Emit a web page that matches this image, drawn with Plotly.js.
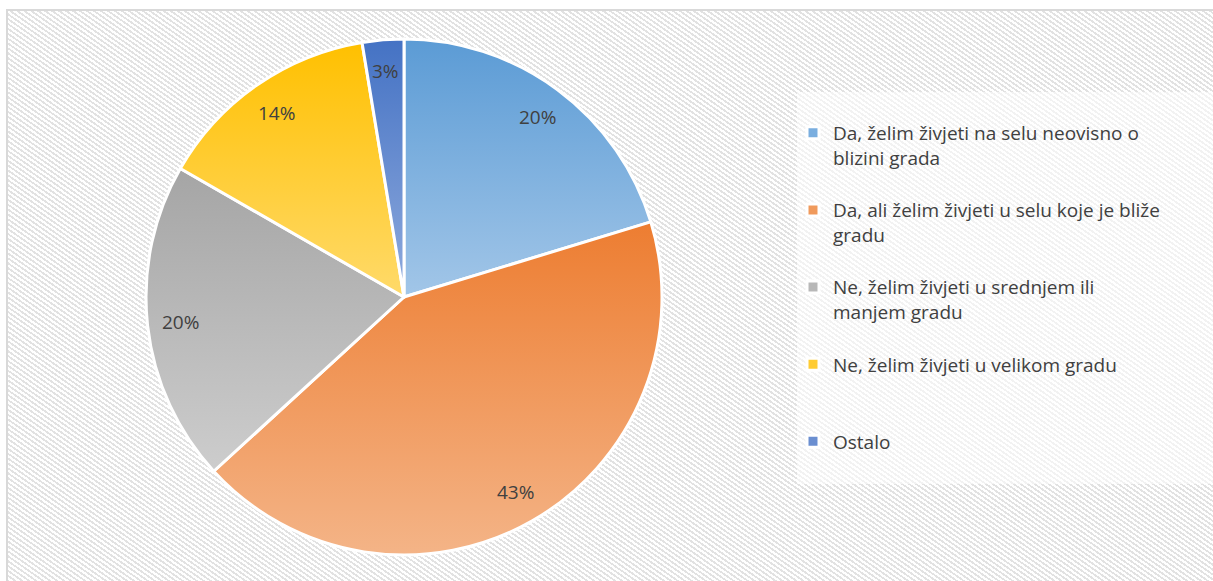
<!DOCTYPE html>
<html>
<head>
<meta charset="utf-8">
<script src="https://cdn.plot.ly/plotly-3.0.1.min.js"></script>
<style>
  html, body { margin: 0; padding: 0; background: #ffffff; }
  #wrap { position: relative; width: 1213px; height: 581px; overflow: hidden; background: #ffffff; }
  #bg { position: absolute; left: 6px; top: 9px; width: 1220px; height: 600px;
        border-left: 2px solid #d9d9d9; border-top: 2px solid #d9d9d9;
        background: repeating-linear-gradient(35deg, #e2e2e2 0px, #e2e2e2 1.8px, #ffffff 1.8px, #ffffff 4px); }
  #chart { position: absolute; left: 0; top: 0; width: 1213px; height: 581px; }
</style>
</head>
<body>
<div id="wrap">
  <div id="bg"></div>
  <div id="chart"></div>
</div>
<script>
// ---- data ----
var categories = [
  "Da, želim živjeti na selu neovisno o<br>blizini grada<br> ",
  "Da, ali želim živjeti u selu koje je bliže<br>gradu<br> ",
  "Ne, želim živjeti u srednjem ili<br>manjem gradu<br> ",
  "Ne, želim živjeti u velikom gradu<br> <br> ",
  "Ostalo"
];
var values = [20.3, 42.9, 20.1, 14.1, 2.6];

// ---- styles ----
var midColors = ["#7aaedf", "#f09a5c", "#b8b8b8", "#ffcc33", "#6a8ed0"];
var gradTop = ["#5b9bd5", "#ed7d31", "#a5a5a5", "#ffc000", "#4472c4"];
var gradBottom = ["#a2c6e8", "#f4b487", "#cdcdcd", "#ffda6a", "#90abdd"];
var LABEL_FONT = '"Open Sans", Lato, sans-serif';
var LEGEND_FONT = '"Open Sans", sans-serif';

var W = 1213, H = 581;
var dom = { x: [146 / W, 662 / W], y: [(H - 555) / H, (H - 39) / H] };
var Rpx = 258;

// percentage labels placed near the outer rim (computed from the data)
var total = values.reduce(function (a, b) { return a + b; }, 0);
var cx = (dom.x[0] + dom.x[1]) / 2, cy = (dom.y[0] + dom.y[1]) / 2;
var annotations = [];
var cum = 0;
values.forEach(function (v, i) {
  var mid = (cum + v / 2) / total * 2 * Math.PI;
  cum += v;
  var r = (i === 4) ? 0.88 * Rpx : 0.87 * Rpx;
  annotations.push({
    xref: 'paper', yref: 'paper',
    x: cx + r * Math.sin(mid) / W,
    y: cy + r * Math.cos(mid) / H,
    text: Math.round(v / total * 100) + '%',
    showarrow: false,
    font: { family: LABEL_FONT, size: 19, color: '#404040' },
    xanchor: 'center', yanchor: 'middle'
  });
});

var trace = {
  type: 'pie',
  labels: categories,
  values: values,
  sort: false,
  direction: 'clockwise',
  rotation: 0,
  textinfo: 'none',
  hoverinfo: 'label+percent',
  domain: dom,
  marker: { colors: midColors, line: { color: '#ffffff', width: 3 } }
};

var layout = {
  width: W, height: H,
  margin: { l: 0, r: 0, t: 0, b: 0 },
  paper_bgcolor: 'rgba(0,0,0,0)',
  plot_bgcolor: 'rgba(0,0,0,0)',
  showlegend: true,
  legend: {
    x: 793 / W, xanchor: 'left',
    y: 1 - 114 / H, yanchor: 'top',
    valign: 'top',
    bgcolor: 'rgba(0,0,0,0)',
    font: { family: LEGEND_FONT, size: 19, color: '#404040' },
    traceorder: 'normal'
  },
  shapes: [{
    type: 'rect', xref: 'paper', yref: 'paper', layer: 'below',
    x0: 797 / W, x1: 1.01, y0: 1 - 484 / H, y1: 1 - 92 / H,
    fillcolor: 'rgba(255,255,255,0.55)', line: { width: 0 }
  }],
  annotations: annotations
};

Plotly.newPlot('chart', [trace], layout, { displayModeBar: false, staticPlot: true }).then(function (gd) {
  try {
    var svg = gd.querySelector('svg.main-svg');
    var ns = 'http://www.w3.org/2000/svg';
    var defs = svg.querySelector('defs');
    if (!defs) { defs = document.createElementNS(ns, 'defs'); svg.insertBefore(defs, svg.firstChild); }
    gradTop.forEach(function (c, i) {
      var lg = document.createElementNS(ns, 'linearGradient');
      lg.setAttribute('id', 'sliceGrad' + i);
      lg.setAttribute('x1', '0'); lg.setAttribute('y1', '0');
      lg.setAttribute('x2', '0'); lg.setAttribute('y2', '1');
      var s1 = document.createElementNS(ns, 'stop');
      s1.setAttribute('offset', '0'); s1.setAttribute('stop-color', c);
      var s2 = document.createElementNS(ns, 'stop');
      s2.setAttribute('offset', '1'); s2.setAttribute('stop-color', gradBottom[i]);
      lg.appendChild(s1); lg.appendChild(s2);
      defs.appendChild(lg);
    });
    var paths = gd.querySelectorAll('.pielayer .slice path.surface');
    paths.forEach(function (p, i) { p.style.fill = 'url(#sliceGrad' + i + ')'; });
  } catch (e) {}
});
</script>
</body>
</html>
